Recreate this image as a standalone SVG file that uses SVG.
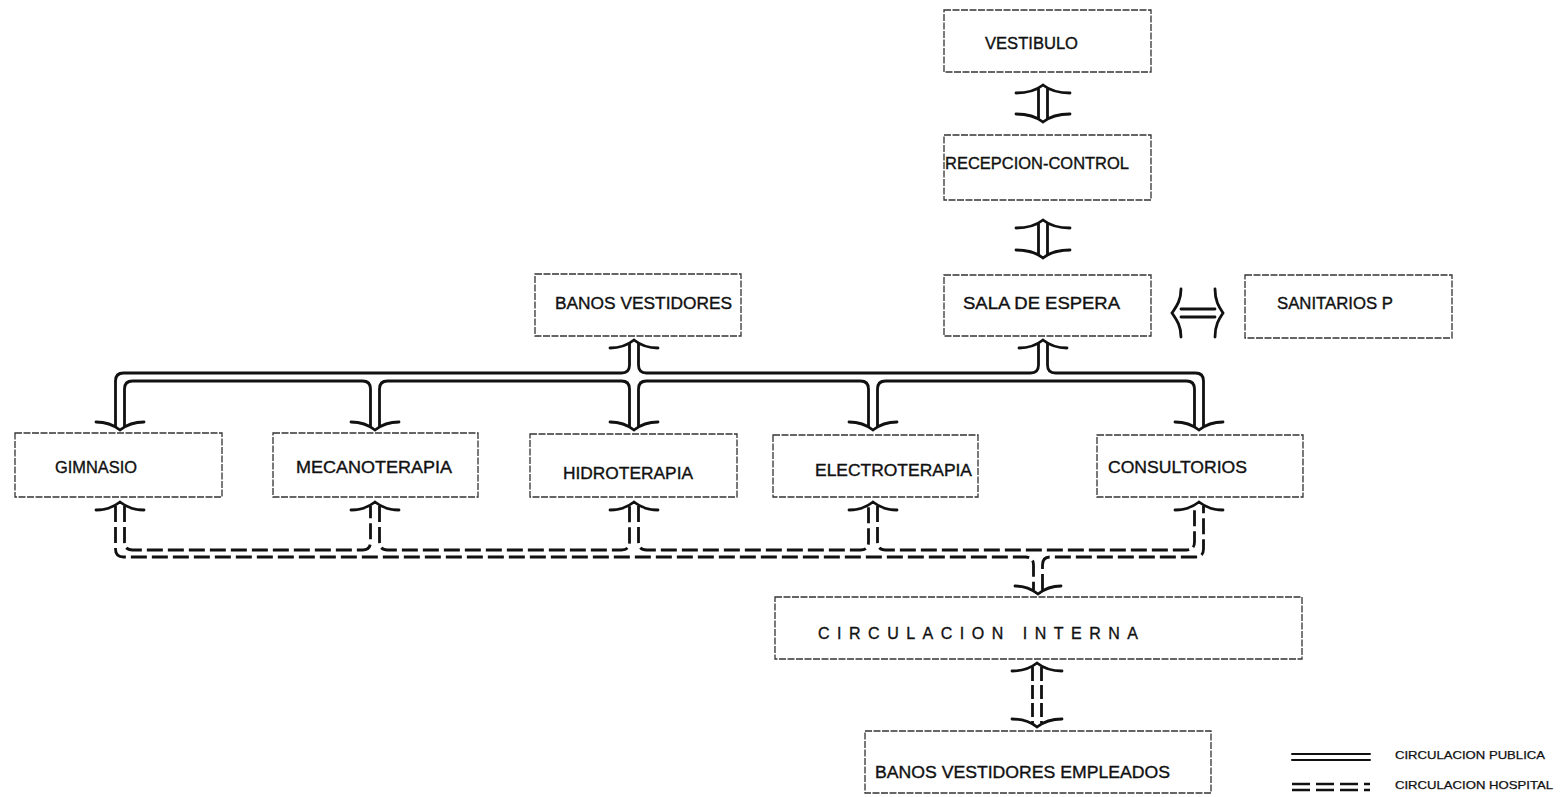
<svg xmlns="http://www.w3.org/2000/svg" width="1562" height="797" viewBox="0 0 1562 797">
<style>
.box{fill:#fff;stroke:#333;stroke-width:1.3;stroke-dasharray:7 1.5}
.t{font-family:"Liberation Sans",Arial,sans-serif;font-size:16px;fill:#111;stroke:#111;stroke-width:0.35}
.lg{font-family:"Liberation Sans",Arial,sans-serif;font-size:11px;fill:#111;stroke:#111;stroke-width:0.25}
.c{fill:none;stroke:#111;stroke-width:2.8;stroke-linecap:round;stroke-linejoin:round}
.d{fill:none;stroke:#111;stroke-width:2.8;stroke-dasharray:16 5}
.a{fill:none;stroke:#111;stroke-width:2.8;stroke-linecap:round}
</style>
<rect width="1562" height="797" fill="#fff"/>

<g id="vestibulo"><rect class="box" x="944" y="10" width="207" height="62"/><text class="t" x="985" y="49" textLength="93" lengthAdjust="spacingAndGlyphs">VESTIBULO</text></g>
<g id="recepcion"><rect class="box" x="944" y="135" width="207" height="65"/><text class="t" x="945" y="169" textLength="184" lengthAdjust="spacingAndGlyphs">RECEPCION-CONTROL</text></g>
<g id="sala"><rect class="box" x="944" y="275" width="207" height="61"/><text class="t" x="963" y="309" textLength="157" lengthAdjust="spacingAndGlyphs">SALA DE ESPERA</text></g>
<g id="sanitarios"><rect class="box" x="1245" y="275" width="207" height="63"/><text class="t" x="1277" y="309" textLength="116" lengthAdjust="spacingAndGlyphs">SANITARIOS P</text></g>
<g id="banos"><rect class="box" x="535" y="274" width="206" height="62"/><text class="t" x="555" y="309" textLength="177" lengthAdjust="spacingAndGlyphs">BANOS VESTIDORES</text></g>
<g id="gimnasio"><rect class="box" x="15" y="433" width="207" height="64"/><text class="t" x="55" y="473" textLength="82" lengthAdjust="spacingAndGlyphs">GIMNASIO</text></g>
<g id="mecanoterapia"><rect class="box" x="273" y="433" width="205" height="64"/><text class="t" x="296" y="473" textLength="156" lengthAdjust="spacingAndGlyphs">MECANOTERAPIA</text></g>
<g id="hidroterapia"><rect class="box" x="530" y="434" width="207" height="63"/><text class="t" x="563" y="479" textLength="130" lengthAdjust="spacingAndGlyphs">HIDROTERAPIA</text></g>
<g id="electroterapia"><rect class="box" x="773" y="435" width="205" height="62"/><text class="t" x="815" y="476" textLength="157" lengthAdjust="spacingAndGlyphs">ELECTROTERAPIA</text></g>
<g id="consultorios"><rect class="box" x="1097" y="435" width="206" height="62"/><text class="t" x="1108" y="473" textLength="139" lengthAdjust="spacingAndGlyphs">CONSULTORIOS</text></g>
<g id="circulacion"><rect class="box" x="775" y="597" width="527" height="62"/><text class="t" x="818" y="639" textLength="320" lengthAdjust="spacing">CIRCULACION  INTERNA</text></g>
<g id="empleados"><rect class="box" x="865" y="731" width="346" height="62"/><text class="t" x="875" y="778" textLength="295" lengthAdjust="spacingAndGlyphs">BANOS VESTIDORES EMPLEADOS</text></g>

<g id="connectors">
<path class="c" d="M1038.5 89 L1038.5 118 M1047.5 89 L1047.5 118"/>
<path class="a" d="M1016 93 C1031 93 1038 89 1043 85 C1048 89 1055 93 1070 93"/>
<path class="a" d="M1016 114 C1031 114 1038 118 1043 122 C1048 118 1055 114 1070 114"/>
<path class="c" d="M1038.5 224 L1038.5 254 M1047.5 224 L1047.5 254"/>
<path class="a" d="M1016 228 C1031 228 1038 224 1043 220 C1048 224 1055 228 1070 228"/>
<path class="a" d="M1016 250 C1031 250 1038 254 1043 258 C1048 254 1055 250 1070 250"/>
<path class="c" d="M1181 309 L1215 309 M1181 317 L1215 317"/>
<path class="a" d="M1181 289 C1181 301 1176 307 1172 313 C1176 319 1181 325 1181 337"/>
<path class="a" d="M1215 289 C1215 301 1219 307 1223 313 C1219 319 1215 325 1215 337"/>

<path class="c" d="M115.5 426 L115.5 381 Q115.5 373 123.5 373 L621.5 373 Q629.5 373 629.5 365 L629.5 344 M638.5 344 L638.5 365 Q638.5 373 646.5 373 L1030.5 373 Q1038.5 373 1038.5 365 L1038.5 344 M1047.5 344 L1047.5 365 Q1047.5 373 1055.5 373 L1195.5 373 Q1203.5 373 1203.5 381 L1203.5 426"/>
<path class="c" d="M124.5 426 L124.5 389 Q124.5 381 132.5 381 L362.5 381 Q370.5 381 370.5 389 L370.5 426 M379.5 426 L379.5 389 Q379.5 381 387.5 381 L621.5 381 Q629.5 381 629.5 389 L629.5 426 M638.5 426 L638.5 389 Q638.5 381 646.5 381 L860.5 381 Q868.5 381 868.5 389 L868.5 426 M877.5 426 L877.5 389 Q877.5 381 885.5 381 L1186.5 381 Q1194.5 381 1194.5 389 L1194.5 426"/>
<path class="a" d="M610 348 C622 348 629 344 634 340 C639 344 646 348 658 348"/>
<path class="a" d="M1019 348 C1031 348 1038 344 1043 340 C1048 344 1055 348 1067 348"/>
<path class="a" d="M96 422 C108 422 115 426 120 430 C125 426 132 422 144 422"/>
<path class="a" d="M351 422 C363 422 370 426 375 430 C380 426 387 422 399 422"/>
<path class="a" d="M610 422 C622 422 629 426 634 430 C639 426 646 422 658 422"/>
<path class="a" d="M849 422 C861 422 868 426 873 430 C878 426 885 422 897 422"/>
<path class="a" d="M1175 422 C1187 422 1194 426 1199 430 C1204 426 1211 422 1223 422"/>

<path class="d" d="M115.5 506 L115.5 549 Q115.5 557 123.5 557 L1025.5 557 Q1033.5 557 1033.5 565 L1033.5 590 M1042.5 590 L1042.5 565 Q1042.5 557 1050.5 557 L1195.5 557 Q1203.5 557 1203.5 549 L1203.5 506"/>
<path class="d" d="M124.5 506 L124.5 542 Q124.5 550 132.5 550 L362.5 550 Q370.5 550 370.5 542 L370.5 506 M379.5 506 L379.5 542 Q379.5 550 387.5 550 L621.5 550 Q629.5 550 629.5 542 L629.5 506 M638.5 506 L638.5 542 Q638.5 550 646.5 550 L860.5 550 Q868.5 550 868.5 542 L868.5 506 M877.5 506 L877.5 542 Q877.5 550 885.5 550 L1186.5 550 Q1194.5 550 1194.5 542 L1194.5 506"/>
<path class="a" d="M96 510 C108 510 115 506 120 502 C125 506 132 510 144 510"/>
<path class="a" d="M351 510 C363 510 370 506 375 502 C380 506 387 510 399 510"/>
<path class="a" d="M610 510 C622 510 629 506 634 502 C639 506 646 510 658 510"/>
<path class="a" d="M849 510 C861 510 868 506 873 502 C878 506 885 510 897 510"/>
<path class="a" d="M1175 510 C1187 510 1194 506 1199 502 C1204 506 1211 510 1223 510"/>
<path class="a" d="M1015 586 C1027 586 1033 590 1038 594 C1043 590 1049 586 1061 586"/>

<path class="d" style="stroke-dasharray:14 4" d="M1032.5 667 L1032.5 723 M1041.5 667 L1041.5 723"/>
<path class="a" d="M1012 671 C1025 671 1032 667 1037 663 C1042 667 1049 671 1062 671"/>
<path class="a" d="M1012 719 C1025 719 1032 723 1037 727 C1042 723 1049 719 1062 719"/>
</g>

<g id="legend">
<path class="c" style="stroke-width:2" d="M1292 754 L1370 754 M1292 760 L1370 760"/>
<path class="d" style="stroke-width:2.4;stroke-dasharray:18 6" d="M1292 784 L1370 784 M1292 790 L1370 790"/>
<text class="lg" x="1395" y="759" textLength="150" lengthAdjust="spacingAndGlyphs">CIRCULACION PUBLICA</text>
<text class="lg" x="1395" y="789" textLength="158" lengthAdjust="spacingAndGlyphs">CIRCULACION HOSPITAL</text>
</g>
</svg>
